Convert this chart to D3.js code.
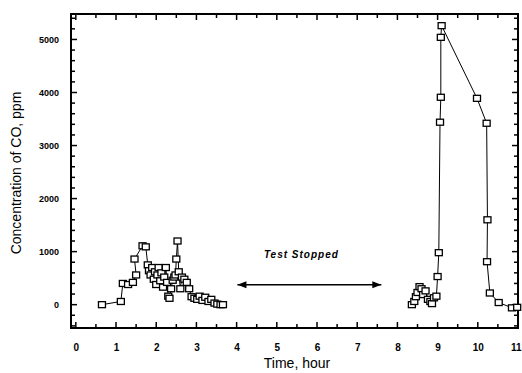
<!DOCTYPE html>
<html>
<head>
<meta charset="utf-8">
<script src="https://cdn.jsdelivr.net/npm/d3@7"></script>
<style>
  body { margin: 0; background: #fff; }
  text { font-family: "Liberation Sans", Arial, sans-serif; fill: #000; }
</style>
</head>
<body>
<svg id="chart" width="522" height="373"></svg>
<script>
// run 1: before the test stop
const timeA = [0.65, 1.12, 1.17, 1.30, 1.42, 1.50, 1.46, 1.66, 1.74, 1.79, 1.82, 1.86, 1.90, 1.94, 1.97,
  2.00, 2.03, 2.06, 2.10, 2.13, 2.17, 2.20, 2.24, 2.27, 2.30, 2.33, 2.37, 2.41, 2.45, 2.48, 2.50,
  2.53, 2.56, 2.60, 2.64, 2.70, 2.76, 2.82, 2.88, 2.95, 3.02, 3.08, 3.15, 3.22, 3.30, 3.37, 3.45,
  3.52, 3.60, 3.66];
const coA = [0, 60, 400, 380, 420, 560, 860, 1110, 1090, 750, 640, 560, 700, 480, 620,
  380, 560, 700, 450, 600, 330, 520, 700, 420, 160, 120, 300, 460, 520, 560, 860,
  1200, 620, 300, 520, 480, 420, 300, 150, 120, 100, 160, 80, 140, 60, 100, 30,
  10, 0, 0];
// run 2: after restart
const timeB = [8.36, 8.42, 8.46, 8.50, 8.55, 8.60, 8.64, 8.70, 8.76, 8.82, 8.86, 8.91, 8.97, 9.00,
  9.03, 9.06, 9.08, 9.08, 9.10, 9.98, 10.22, 10.24, 10.23, 10.30, 10.52, 10.85, 10.98];
const coB = [0, 60, 150, 230, 340, 300, 190, 260, 100, 60, 20, 130, 160, 530,
  980, 3440, 3910, 5040, 5260, 3890, 3420, 1600, 810, 220, 40, -60, -50];

const xTicks = [0, 1, 2, 3, 4, 5, 6, 7, 8, 9, 10, 11];
const yTicks = [0, 1000, 2000, 3000, 4000, 5000];
const stopStart = 4.02, stopEnd = 7.6, stopLevel = 375;
const stopLabel = "Test Stopped";

const svg = d3.select("#chart");
const L = 71, R = 518, T = 14, B = 328;

const x = d3.scaleLinear().domain([-0.12, 11]).range([L, R]);
const y = d3.scaleLinear().domain([-440, 5480]).range([B, T]);

// inner ticks on all four sides
const halfHours = d3.range(0, 11.01, 0.5);
const fifths = d3.range(-400, 5401, 200);

const tickG = svg.append("g").attr("stroke", "#000").attr("stroke-width", 1.5);
halfHours.forEach(h => {
  const len = Number.isInteger(h) ? 6 : 4;
  tickG.append("line").attr("x1", x(h)).attr("x2", x(h)).attr("y1", B).attr("y2", B - len);
  tickG.append("line").attr("x1", x(h)).attr("x2", x(h)).attr("y1", T).attr("y2", T + len);
});
fifths.forEach(v => {
  const len = v % 1000 === 0 ? 6 : 4;
  tickG.append("line").attr("x1", L).attr("x2", L + len).attr("y1", y(v)).attr("y2", y(v));
  tickG.append("line").attr("x1", R).attr("x2", R - len).attr("y1", y(v)).attr("y2", y(v));
});

svg.append("rect").attr("x", L).attr("y", T).attr("width", R - L).attr("height", B - T)
  .attr("fill", "none").attr("stroke", "#000").attr("stroke-width", 2);

// tick labels
svg.append("g").attr("transform", `translate(0,${B + 13})`)
  .call(d3.axisBottom(x).tickValues(xTicks).tickSize(0).tickFormat(d3.format("d")))
  .call(g => g.select(".domain").remove())
  .call(g => g.selectAll("text").attr("font-size", 10).attr("font-weight", "bold"))
  .call(g => g.selectAll("text").filter(d => d === 11).attr("text-anchor", "end").attr("x", 3));

svg.append("g").attr("transform", `translate(${L - 9},0)`)
  .call(d3.axisLeft(y).tickValues(yTicks).tickSize(0).tickFormat(d3.format("d")))
  .call(g => g.select(".domain").remove())
  .call(g => g.selectAll("text").attr("font-size", 9).attr("font-weight", "bold"));

// axis titles
svg.append("text").attr("x", 297).attr("y", 368).attr("text-anchor", "middle")
  .attr("font-size", 14).text("Time, hour");
svg.append("text").attr("transform", `translate(21,${173}) rotate(-90)`)
  .attr("text-anchor", "middle").attr("font-size", 14).text("Concentration of CO, ppm");

// series
const line = d3.line().x(d => x(d[0])).y(d => y(d[1]));
[[timeA, coA], [timeB, coB]].forEach(([ts, vs]) => {
  const pts = ts.map((t, i) => [t, vs[i]]);
  svg.append("path").datum(pts).attr("d", line)
    .attr("fill", "none").attr("stroke", "#000").attr("stroke-width", 1);
  svg.append("g").selectAll("rect").data(pts).join("rect")
    .attr("x", d => x(d[0]) - 3.5).attr("y", d => y(d[1]) - 3)
    .attr("width", 7).attr("height", 6)
    .attr("fill", "#fff").attr("stroke", "#000").attr("stroke-width", 1.3);
});

// test stopped annotation
svg.append("defs").append("marker").attr("id", "ah")
  .attr("viewBox", "0 0 10 10").attr("refX", 10).attr("refY", 5)
  .attr("markerWidth", 8).attr("markerHeight", 6).attr("orient", "auto-start-reverse")
  .append("path").attr("d", "M0,1 L10,5 L0,9 Z").attr("fill", "#000");
svg.append("line")
  .attr("x1", x(stopStart)).attr("x2", x(stopEnd)).attr("y1", y(stopLevel)).attr("y2", y(stopLevel))
  .attr("stroke", "#000").attr("stroke-width", 1.5)
  .attr("marker-start", "url(#ah)").attr("marker-end", "url(#ah)");
svg.append("text").attr("x", x((stopStart + stopEnd) / 2) - 8).attr("y", y(stopLevel) - 27)
  .attr("text-anchor", "middle").attr("font-size", 10).attr("font-style", "italic")
  .attr("font-weight", "bold").attr("letter-spacing", 1).text(stopLabel);
</script>
</body>
</html>
